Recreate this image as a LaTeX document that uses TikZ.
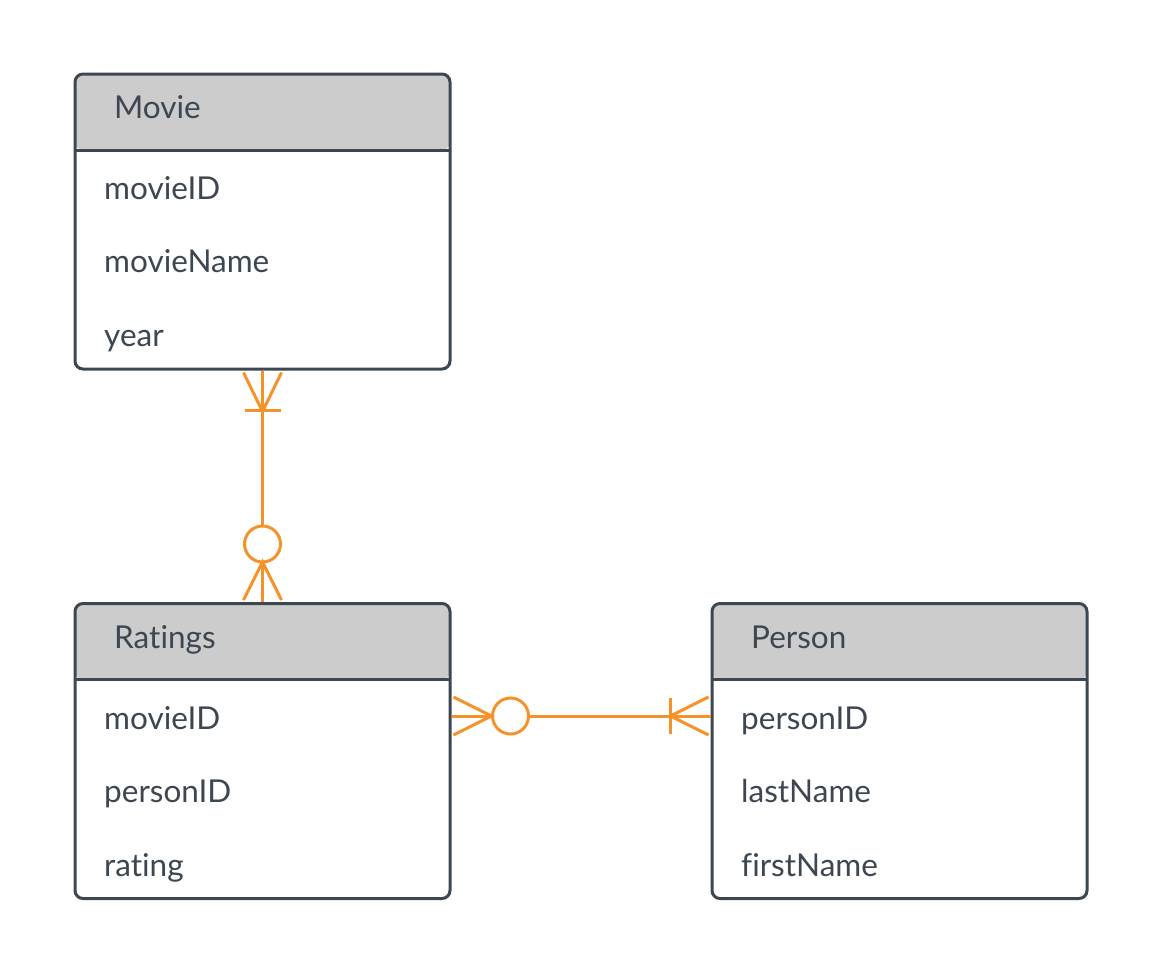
\documentclass[tikz,border=0pt]{standalone}
\usepackage{fontspec}
\setmainfont{Lato}[Ligatures=NoCommon]
\usetikzlibrary{calc}
\definecolor{ink}{HTML}{3D4752}
\definecolor{hdr}{HTML}{CCCCCC}
\definecolor{rel}{HTML}{F6922A}
\tikzset{
  entity/.style={draw=ink, line width=3pt, rounded corners=8pt, fill=white,
    minimum width=375pt, minimum height=295pt, inner sep=0pt,
    path picture={\fill[hdr] (path picture bounding box.north west) rectangle ([yshift=-76pt]path picture bounding box.north east);
      \draw[ink, line width=3pt] ([yshift=-76pt]path picture bounding box.north west) -- ([yshift=-76pt]path picture bounding box.north east);}},
  title/.style={anchor=base west, text=ink, font=\fontsize{31.5pt}{34pt}\selectfont, inner sep=0pt},
  field/.style={anchor=base west, text=ink, font=\fontsize{31.5pt}{34pt}\selectfont, inner sep=0pt},
  relline/.style={draw=rel, line width=3pt}
}
\begin{document}
\begin{tikzpicture}[x=1pt,y=-1pt]
\useasboundingbox (0,0) rectangle (1163,975);
% entities
\node[entity] (movie) at (262.5,221.5) {};
\node[entity] (ratings) at (262.5,751) {};
\node[entity] (person) at (899.5,751) {};
% titles
\node[title] (tmovie) at (114,118) {Movie};
\node[title] (tratings) at (114,648) {Ratings};
\node[title] (tperson) at (751,648) {Person};
% fields
\node[field] (m1) at (104,199) {movieID};
\node[field] (m2) at (104,272.5) {movieName};
\node[field] (m3) at (104,346) {year};
\node[field] (r1) at (104,729) {movieID};
\node[field] (r2) at (104,802.5) {personID};
\node[field] (r3) at (104,876) {rating};
\node[field] (p1) at (741,729) {personID};
\node[field] (p2) at (741,802.5) {lastName};
\node[field] (p3) at (741,876) {firstName};
% connector Movie -- Ratings
\coordinate (A) at (movie.south);
\coordinate (B) at (ratings.north);
\draw[relline] ($(A)+(-19,2)$) -- ($(A)+(0,41)$) -- ($(A)+(19,2)$);
\draw[relline] ($(A)+(-18,40)$) -- ($(A)+(18,40)$);
\draw[relline] (A) -- ($(B)+(0,-76)$);
\draw[relline] ($(B)+(0,-58)$) circle[radius=18];
\draw[relline] ($(B)+(-19,-2)$) -- ($(B)+(0,-40)$) -- ($(B)+(19,-2)$);
\draw[relline] (B) -- ($(B)+(0,-40)$);
% connector Ratings -- Person
\coordinate (C) at (ratings.east |- 0,716);
\coordinate (D) at (person.west |- 0,716);
\draw[relline] ($(C)+(2,-19)$) -- ($(C)+(40,0)$) -- ($(C)+(2,19)$);
\draw[relline] (C) -- ($(C)+(40,0)$);
\draw[relline] ($(C)+(59,0)$) circle[radius=18];
\draw[relline] ($(C)+(77,0)$) -- (D);
\draw[relline] ($(D)+(-2,-19)$) -- ($(D)+(-40,0)$) -- ($(D)+(-2,19)$);
\draw[relline] ($(D)+(-40,-18)$) -- ($(D)+(-40,18)$);
\end{tikzpicture}
\end{document}
